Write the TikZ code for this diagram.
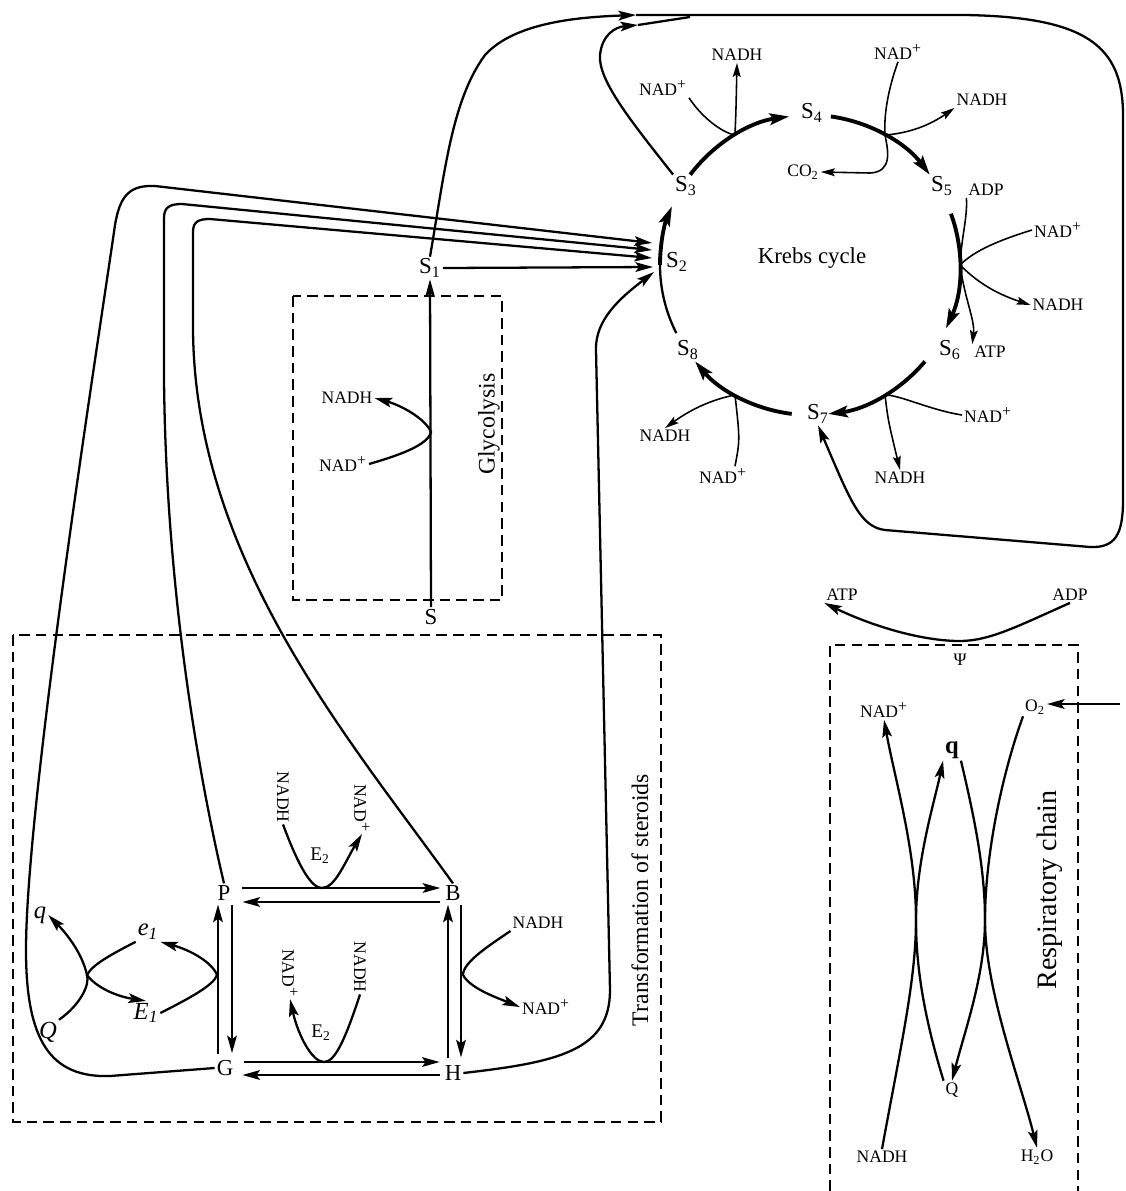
\documentclass[tikz,border=0pt]{standalone}
\usepackage{fontspec}
\setmainfont{Liberation Serif}
\usetikzlibrary{calc, arrows.meta, positioning}
\newcommand{\nadp}{NAD\textsuperscript{\fontsize{9}{9}\selectfont+}}

\begin{document}
\begin{tikzpicture}[
  x=0.02cm, y=-0.02cm,
  every node/.style={inner sep=1pt, font=\fontsize{10}{12}\selectfont},
  met/.style={font=\fontsize{13}{15}\selectfont},
  ital/.style={font=\fontsize{14}{16}\selectfont\itshape},
  enz/.style={font=\fontsize{11}{13}\selectfont},
  side/.style={font=\fontsize{13.5}{16}\selectfont, rotate=90},
  vlbl/.style={rotate=-90},
  arr/.style={-{Stealth[length=10pt,width=5.5pt,inset=2pt]}, line width=1.3pt},
  ln/.style={line width=1.3pt},
  tn/.style={line width=0.9pt},
  tarr/.style={-{Stealth[length=8pt,width=4.5pt,inset=1.5pt]}, line width=0.9pt},
  karr/.style={-{Stealth[length=11pt,width=6.5pt,inset=2pt]}, line width=2.2pt},
  box/.style={line width=0.9pt, dash pattern=on 6pt off 3.5pt}
]
\useasboundingbox (0,0) rectangle (1126,1191);

\coordinate (kc) at (810,265);
\node (S1) [met] at (430,268) {S\textsubscript{1}};
\node (S2) [met] at (677,262) {S\textsubscript{2}};
\node (S3) [met] at (686,186) {S\textsubscript{3}};
\node (S4) [met] at (812,113) {S\textsubscript{4}};
\node (S5) [met] at (942,186) {S\textsubscript{5}};
\node (S6) [met] at (950,350) {S\textsubscript{6}};
\node (S7) [met] at (818,414) {S\textsubscript{7}};
\node (S8) [met] at (688,350) {S\textsubscript{8}};
\node (krebs) [met] at (812,258) {Krebs cycle};

\draw[karr] ($(kc)+(-143:150)$) arc[start angle=-143, end angle=-98, radius=150];
\draw[karr] ($(kc)+(-82:150)$) arc[start angle=-82, end angle=-37, radius=150];
\draw[karr] ($(kc)+(-20:150)$) arc[start angle=-20, end angle=25, radius=150];
\draw[karr] ($(kc)+(40:150)$) arc[start angle=40, end angle=83, radius=150];
\draw[karr] ($(kc)+(97:150)$) arc[start angle=97, end angle=140, radius=150];
\draw[line width=1.3pt] ($(kc)+(153:150)$) arc[start angle=153, end angle=180, radius=150];
\draw[karr] ($(kc)+(180:150)$) arc[start angle=180, end angle=203, radius=150];

\coordinate (ja) at ($(kc)+(-120:150)$);
\coordinate (jb) at ($(kc)+(-60:150)$);
\coordinate (jc) at ($(kc)+(0:150)$);
\coordinate (jd) at ($(kc)+(60:150)$);
\coordinate (je) at ($(kc)+(120:150)$);

\node (nadA) at (663,88) {\nadp};
\node (nadhA) at (737,55) {NADH};
\draw[tn] (nadA.south east) .. controls (700,115) and (720,132) .. (ja);
\draw[tarr] (ja) .. controls (736,110) .. (nadhA.south);

\node (nadB) at (898,52) {\nadp};
\node (co2) at (803,172) {CO\textsubscript{2}};
\node (nadhB) at (982,100) {NADH};
\draw[tarr] (nadB.south) .. controls (886,95) and (884,120) .. (jb) .. controls (888,150) and (893,172) .. (870,173) -- (co2.east);
\draw[tarr] (jb) .. controls (910,133) and (930,125) .. (nadhB.south west);

\node (adp1) at (986,190) {ADP};
\node (nadC) at (1058,230) {\nadp};
\node (nadhC) at (1058,305) {NADH};
\node (atp1) at (990,352) {ATP};
\draw[tn] (adp1.south west) .. controls (968,215) and (961,240) .. (jc);
\draw[tn] (nadC.west) .. controls (1000,240) and (975,250) .. (jc);
\draw[tarr] (jc) .. controls (980,285) and (1000,295) .. (nadhC.west);
\draw[tarr] (jc) .. controls (965,300) and (975,320) .. (atp1.north west);

\node (nadD) at (988,415) {\nadp};
\node (nadhD) at (900,478) {NADH};
\draw[tn] (nadD.west) .. controls (930,410) and (900,395) .. (jd);
\draw[tarr] (jd) .. controls (888,420) .. (nadhD.north);

\node (nadhE) at (665,436) {NADH};
\node (nadE) at (723,476) {\nadp};
\draw[tarr] (je) .. controls (710,400) and (690,410) .. (nadhE.north);
\draw[tn] ($(nadE.north)+(12,0)$) .. controls (740,440) .. (je);

\coordinate (top1) at (636,15);
\coordinate (top2) at (638,25);
\draw[arr] (S1.north) .. controls (445,170) and (452,100) .. (485,55) .. controls (515,22) and (580,17) .. (top1);
\draw[arr] (S3.north west) .. controls (630,120) and (598,80) .. (600,55) .. controls (602,35) and (615,27) .. (top2);
\draw[ln] (top2) -- (690,17);
\draw[arr] (top1) -- (965,15) .. controls (1085,17) and (1123,45) .. (1123,115) -- (1123,500) .. controls (1123,535) and (1115,548) .. (1090,547) -- (885,530) .. controls (860,527) and (850,500) .. (S7.south);

\coordinate (s2a) at (652,243);
\coordinate (s2b) at (652,250);
\coordinate (s2c) at (652,258);
\coordinate (s2d) at (653,267);
\coordinate (s2e) at (654,272);

\draw[box] (293,296) rectangle (502,600);
\node (S) [met] at (431,617) {S};
\node (glyc) [side] at (489,424) {Glycolysis};
\coordinate (jg) at (431,432);
\node (nadhG) at (347,398) {NADH};
\node (nadG) at (343,464) {\nadp};
\draw[arr] (S.north) -- (S1.south);
\draw[arr] (nadG.east) .. controls (400,455) and (428,445) .. (jg) .. controls (425,418) and (400,405) .. (nadhG.east);
\draw[arr] (S1.east) -- (s2d);

\draw[box] (13,635) rectangle (661,1122);
\node (trans) [side] at (640,900) {Transformation of steroids};
\node (P) [met] at (224,893) {P};
\node (B) [met] at (453,893) {B};
\node (G) [met] at (225,1068) {G};
\node (H) [met] at (453,1073) {H};

\draw[arr] ($(P.east)+(10,-5)$) -- ($(B.west)+(-3,-5)$);
\draw[arr] ($(B.west)+(-3,9)$) -- ($(P.east)+(10,9)$);
\draw[arr] ($(G.east)+(9,-6)$) -- ($(H.west)+(-3,-11)$);
\draw[arr] ($(H.west)+(-3,2)$) -- ($(G.east)+(7,7)$);
\draw[arr] ($(G.north)+(-7,-4)$) -- ($(P.south)+(-6,2)$);
\draw[arr] ($(P.south)+(8,2)$) -- ($(G.north)+(7,-5)$);
\draw[arr] ($(H.north)+(-5,-5)$) -- ($(B.south)+(-5,2)$);
\draw[arr] ($(B.south)+(8,2)$) -- ($(H.north)+(8,-6)$);

\draw[arr] (G.west) -- (110,1076) .. controls (50,1078) and (26,1040) .. (26,950) .. controls (26,800) and (100,330) .. (115,225) .. controls (120,195) and (130,185) .. (155,186) -- (s2a);
\draw[arr] (P.north) .. controls (195,760) and (162,560) .. (164,340) -- (164,218) .. controls (164,207) and (170,204) .. (182,204) -- (s2b);
\draw[arr] (B.north) .. controls (350,740) and (195,560) .. (193,330) -- (193,232) .. controls (193,222) and (198,219) .. (210,219) -- (s2c);
\draw[arr] (H.east) .. controls (560,1062) and (610,1050) .. (610,990) -- (596,350) .. controls (595,320) and (620,298) .. (s2e);

\coordinate (jp) at (322,888);
\node (nadhP) [vlbl] at (283,797) {NADH};
\node (nadP) [vlbl] at (362,808) {\nadp};
\node (e2a) [enz] at (320,856) {E\textsubscript{2}};
\draw[arr] (nadhP.east) .. controls (300,870) and (312,888) .. (jp) .. controls (335,888) and (345,862) .. (nadP.east);

\coordinate (jq) at (324,1062);
\node (nadQ) [vlbl] at (290,973) {\nadp};
\node (nadhQ) [vlbl] at (360,967) {NADH};
\node (e2b) [enz] at (321,1033) {E\textsubscript{2}};
\draw[arr] (nadhQ.east) .. controls (345,1040) and (335,1062) .. (jq) .. controls (312,1062) and (298,1035) .. (nadQ.east);

\coordinate (jr) at (463,975);
\node (nadhR) at (538,923) {NADH};
\node (nadR) at (546,1007) {\nadp};
\draw[arr] (nadhR.south west) .. controls (490,945) and (463,962) .. (jr) .. controls (470,988) and (495,997) .. (nadR.west);

\node (qs) [ital] at (40,915) {q};
\node (Qs) [ital] at (48,1032) {Q};
\node (e1) [ital] at (148,932) {e\textsubscript{1}};
\node (E1) [ital] at (146,1013) {E\textsubscript{1}};
\coordinate (jl) at (87,975);
\coordinate (jm) at (217,975);
\draw[arr] (Qs.north east) .. controls (80,1005) and (90,985) .. (jl) .. controls (82,952) and (65,932) .. (qs.east);
\draw[arr] (e1.south west) .. controls (110,955) and (92,965) .. (jl) .. controls (96,987) and (115,996) .. (E1.north);
\draw[arr] (E1.east) .. controls (190,998) and (214,985) .. (jm) .. controls (212,962) and (190,950) .. (e1.south east);

\draw[box] (830,1191) -- (830,645) -- (1078,645) -- (1078,1191);
\node (resp) [side, font=\fontsize{16}{18}\selectfont] at (1050,890) {Respiratory chain};
\node (atp2) at (842,595) {ATP};
\node (adp2) at (1070,595) {ADP};
\node (psi) at (960,660) {Ψ};
\coordinate (jpsi) at (960,641);
\draw[arr] (adp2.south) .. controls (1020,625) and (990,641) .. (jpsi) .. controls (920,641) and (870,625) .. (atp2.south west);
\node (nadRC) at (884,710) {\nadp};
\node (o2) at (1035,707) {O\textsubscript{2}};
\coordinate (o2in) at (1120,704);
\draw[arr] (o2in) -- (o2in -| o2.east);
\node (qb) [font=\fontsize{14}{16}\selectfont\bfseries] at (952,750) {q};
\node (Qr) at (952,1090) {Q};
\node (nadhRC) at (882,1157) {NADH};
\node (h2o) at (1037,1157) {H\textsubscript{2}O};
\draw[arr] (nadhRC.north) .. controls (900,1050) and (916,980) .. (916,920) .. controls (916,850) and (895,780) .. (nadRC.south);
\draw[arr] (Qr.north west) .. controls (925,1020) and (916,970) .. (916,920) .. controls (916,860) and (935,800) .. (qb.south west);
\draw[arr] (qb.south east) .. controls (975,820) and (985,870) .. (985,920) .. controls (985,975) and (965,1030) .. (Qr.north);
\draw[arr] (o2.south west) .. controls (1000,780) and (985,860) .. (985,920) .. controls (985,990) and (1020,1080) .. (h2o.north);
\end{tikzpicture}
\end{document}
